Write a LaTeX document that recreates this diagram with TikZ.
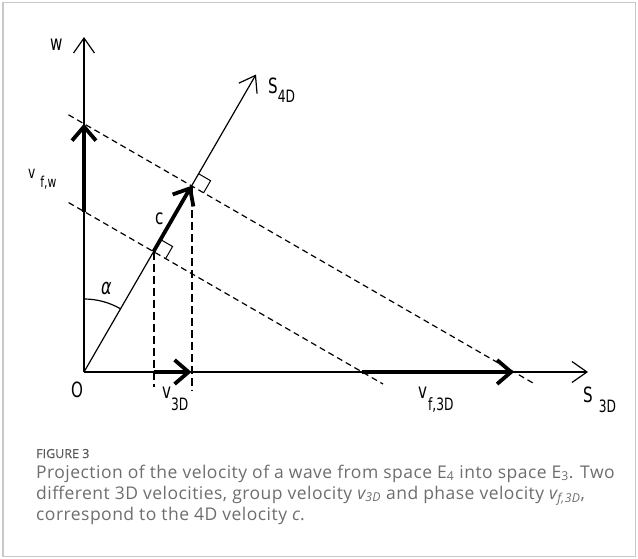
\documentclass[tikz,border=0pt]{standalone}
\usepackage{fontspec}
\setmainfont{Open Sans}[LetterSpace=2.7]
\newfontfamily\labelfont[FakeStretch=0.72]{DejaVu Sans}
\newfontfamily\figfont[FakeBold=0.6]{Open Sans}
\usetikzlibrary{arrows.meta}
\definecolor{captiongray}{HTML}{6E6E6E}
\definecolor{figgray}{HTML}{5A5A5A}
\definecolor{framegray}{HTML}{C8C8C8}
% lowered subscript for the drawing labels
\newcommand{\lsub}[2][11pt]{\raisebox{-#1}{\fontsize{17}{19}\selectfont #2}}

\begin{document}
\begin{tikzpicture}[
    x=1pt, y=-1pt,
    axis/.style={line width=1.8pt, -{Straight Barb[length=15pt,width=21pt,line width=1.2pt]}},
    spaceline/.style={line width=1.2pt, -{Straight Barb[length=15pt,width=21pt,line width=1.2pt]}},
    velvec/.style={line width=3.8pt, -{Straight Barb[length=14pt,width=24pt]}},
    projline/.style={line width=1.2pt, dash pattern=on 6pt off 4pt},
    dropline/.style={line width=2pt, dash pattern=on 8pt off 4pt},
    rightmark/.style={line width=1pt},
    lbl/.style={font=\labelfont\fontsize{21}{23}\selectfont, inner sep=0pt, anchor=base west},
    capline/.style={font=\fontsize{17.5}{21}\selectfont, text=captiongray, inner sep=0pt, anchor=base west}
]
\useasboundingbox (0,0) rectangle (638,558);
\fill[white] (0,0) rectangle (638,558);
\draw[framegray, line width=1.2pt] (3,2.5) rectangle (635.5,556.5);

% ==================== POINTS ====================
\coordinate (O) at (84,372);
\coordinate (wtip) at (84,37);
\coordinate (s3tip) at (588,372);
\coordinate (s4tip) at (256,74.5);
\coordinate (cA) at (153.5,251.6);
\coordinate (cB) at (191.5,185.8);
\coordinate (fwA) at (84,211.5);
\coordinate (fwB) at (84,123.7);
\coordinate (f3A) at (362,372);
\coordinate (f3B) at (514,372);
\coordinate (gA) at (153.5,372);
\coordinate (gB) at (191.5,372);

% ==================== PROJECTIONS ====================
\draw[projline] (68.6,202.6) -- (cA) -- (383,384);
\draw[projline] (68.5,114.8) -- (cB) -- (535.3,384.3);
\draw[dropline] (cA) -- (153.5,387);
\draw[dropline] (cB) -- (191.5,390);

% right angles on S4D
\draw[rightmark] (160.5,239.5) -- (172.6,246.5) -- (165.6,258.6);
\draw[rightmark] (198.5,173.7) -- (210.6,180.7) -- (203.6,192.8);

% ==================== AXES ====================
\draw[axis] (O) -- (wtip);
\draw[axis] (O) -- (s3tip);
\draw[spaceline] (O) -- (s4tip);
\draw[line width=1.2pt] (84,299) arc[start angle=-90, end angle=-60, radius=73];

% ==================== VELOCITIES ====================
\draw[velvec] (cA) -- (cB);
\draw[velvec] (fwA) -- (fwB);
\draw[velvec] (f3A) -- (f3B);
\draw[velvec] (gA) -- (gB);

% ==================== LABELS ====================
\node[lbl] (lw) at (50,50) {w};
\node[lbl] (ls4) at (268,93) {S\lsub[9pt]{4D}};
\node[lbl, font=\labelfont\fontsize{17}{19}\selectfont] (lfw) at (28,178) {v\hspace{5pt}\raisebox{-9pt}{\fontsize{15}{17}\selectfont f,w}};
\node[lbl] (lc) at (155,224) {c};
\node[lbl, font=\labelfont\itshape\fontsize{22}{24}\selectfont] (lalpha) at (101,294) {α};
\node[lbl] (lo) at (71,397) {O};
\node[lbl] (lv3) at (162,398) {v\lsub[12pt]{3D}};
\node[lbl] (lvf3) at (418,398) {v\hspace{1pt}\lsub[12pt]{f,3D}};
\node[lbl] (ls3) at (583,402) {S\hspace{6pt}\lsub[10pt]{3D}};

% ==================== CAPTION ====================
\node[capline, font=\figfont\fontsize{12.5}{15}\selectfont, text=figgray] (figno) at (36,458) {FIGURE 3};
\node[capline] (cap1) at (36,478) {Projection of the velocity of a wave from space E\textsubscript{4} into space E\textsubscript{3}. Two};
\node[capline] (cap2) at (36,499) {different 3D velocities, group velocity \textit{v\textsubscript{3D}} and phase velocity \textit{v\textsubscript{f,3D}},};
\node[capline] (cap3) at (36,520) {correspond to the 4D velocity \textit{c}.};
\end{tikzpicture}
\end{document}
